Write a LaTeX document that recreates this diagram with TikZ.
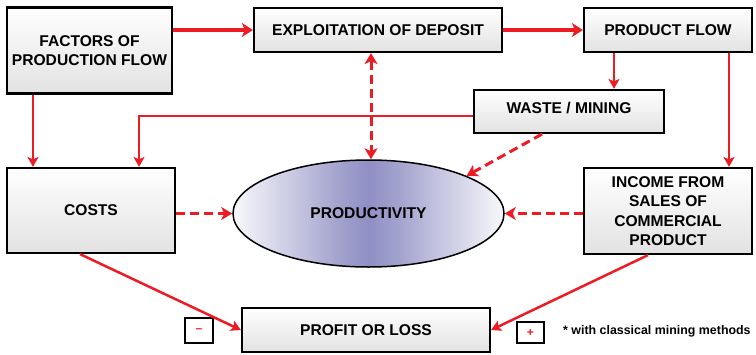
\documentclass[tikz,border=0pt]{standalone}
\usepackage{fontspec}
\setmainfont{Liberation Sans}
\usetikzlibrary{arrows.meta,shapes.geometric}
\definecolor{flowred}{RGB}{237,28,36}
\definecolor{boxgray}{RGB}{226,226,226}
\definecolor{prodblue}{RGB}{143,143,196}
% pale rims blending into a blue-violet middle
\pgfdeclarehorizontalshading{prodband}{100bp}{%
  color(0bp)=(white!94!prodblue); color(25bp)=(white!94!prodblue);
  color(30bp)=(white!74!prodblue); color(37.5bp)=(white!46!prodblue);
  color(43.75bp)=(white!20!prodblue); color(50bp)=(prodblue);
  color(56.25bp)=(white!20!prodblue); color(62.5bp)=(white!46!prodblue);
  color(70bp)=(white!74!prodblue); color(75bp)=(white!94!prodblue);
  color(100bp)=(white!94!prodblue)}
\begin{document}
\begin{tikzpicture}[x=1pt,y=-1pt,
  dtip/.tip={Stealth[length=11pt,width=13pt,inset=3pt]},
  box/.style={draw=black,line width=2.2pt,top color=white,bottom color=boxgray,
    align=center,font=\fontsize{15.6}{19.5}\selectfont\bfseries,inner sep=0pt},
  signbox/.style={draw=black,line width=1.8pt,fill=white,inner sep=0pt,
    text=flowred,font=\fontsize{12}{12}\selectfont\bfseries},
  thickflow/.style={draw=flowred,line width=4pt,-{Stealth[length=11pt,width=14pt,inset=3pt]}},
  flow/.style={draw=flowred,line width=2.5pt,-{Stealth[length=10pt,width=11pt,inset=2.5pt]}},
  dflow/.style={draw=flowred,line width=3pt,dash pattern=on 9pt off 5pt,-dtip}]
\useasboundingbox (0,0) rectangle (756,354);

% boxes
\node[box,minimum width=165pt,minimum height=86pt] (fac) at (89.5,50.5) {FACTORS OF\\PRODUCTION FLOW};
\node[box,minimum width=248pt,minimum height=44pt] (exp) at (378,30) {EXPLOITATION OF DEPOSIT};
\node[box,minimum width=168pt,minimum height=44pt] (pf) at (668,30) {PRODUCT FLOW};
\node[box,minimum width=190pt,minimum height=43pt] (waste) at (569,111.5) {\raisebox{7pt}{WASTE / MINING}};
\node[box,minimum width=168pt,minimum height=85pt] (costs) at (91,210.5) {COSTS};
\node[box,minimum width=168pt,minimum height=86pt] (inc) at (668,211) {INCOME FROM\\SALES OF\\COMMERCIAL\\PRODUCT};
\node[box,minimum width=248pt,minimum height=44pt] (profit) at (366,330) {PROFIT OR LOSS};

% central ellipse
\node[ellipse,draw=black,line width=1.5pt,minimum width=271pt,minimum height=107pt,
  inner sep=0pt,shading=prodband,
  font=\fontsize{15.6}{19.5}\selectfont\bfseries] (prod) at (368.5,213.5) {PRODUCTIVITY};

% sign markers and note
\node[signbox,minimum width=28pt,minimum height=25pt] (minus) at (199,330.5) {\raisebox{-3pt}{--}};
\node[signbox,minimum width=27pt,minimum height=21pt] (plus) at (530.5,332.5) {\raisebox{-2pt}{+}};
\node[anchor=west,inner sep=0pt,font=\fontsize{12.4}{14}\selectfont\bfseries] (note) at (563,331) {* with classical mining methods};

% main flow
\draw[thickflow] (fac.east |- exp.west) -- (exp.west);
\draw[thickflow] (exp.east) -- (pf.west);

% solid connectors
\draw[flow] ([xshift=-56.5pt]fac.south) coordinate (fs) -- (fs |- costs.north);
\draw[flow] ([yshift=-4.5pt]waste.west) -| ([xshift=48pt]costs.north);
\draw[flow] ([xshift=-54pt]pf.south) coordinate (ps) -- (ps |- waste.north);
\draw[flow] ([xshift=61pt]pf.south) coordinate (pr) -- (pr |- inc.north);
\draw[flow] ([xshift=-11pt]costs.south) -- (profit.west);
\draw[flow] ([xshift=-20pt]inc.south) -- (profit.east);

% dashed influences on productivity
\draw[dflow,dtip-dtip] ([xshift=-7pt]exp.south) coordinate (es) -- (es |- prod.north);
\draw[dflow] ([xshift=-27pt]waste.south) -- (prod.21);
\draw[dflow] (costs.east |- prod.west) -- (prod.west);
\draw[dflow] (inc.west |- prod.east) -- (prod.east);
\end{tikzpicture}
\end{document}
